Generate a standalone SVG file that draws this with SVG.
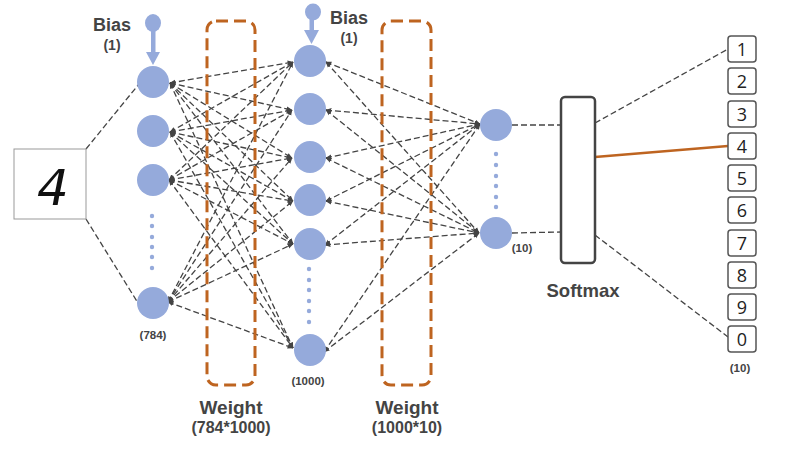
<svg xmlns="http://www.w3.org/2000/svg" width="798" height="449" viewBox="0 0 798 449">
<defs>
<marker id="ah" viewBox="0 0 10 10" refX="9" refY="5" markerWidth="6" markerHeight="6" markerUnits="userSpaceOnUse" orient="auto-start-reverse"><path d="M0,1 L10,5 L0,9 z" fill="#444"/></marker>
<style>
.n{fill:#95AADB}
.d{fill:#95AADB}
.c{stroke:#444;stroke-width:1.3;stroke-dasharray:6 3;fill:none}
.ca{stroke:#444;stroke-width:1.3;stroke-dasharray:6 3;fill:none;marker-start:url(#ah);marker-end:url(#ah)}
.w{fill:none;stroke:#BE6420;stroke-width:3;stroke-dasharray:12 6}
.t{font-family:"Liberation Sans",Arial,sans-serif;font-weight:bold;fill:#444;text-anchor:middle}
.ob{fill:#fff;stroke:#555;stroke-width:1.5}
.od{font-family:"Open Sans","Noto Sans",sans-serif;font-size:18px;fill:#222;text-anchor:middle}
</style>
</defs>
<rect width="798" height="449" fill="#fff"/>

<g id="connectors">
<!-- input to layer 1 -->
<line class="c" x1="86" y1="149" x2="139" y2="84"/>
<line class="c" x1="86" y1="219" x2="138" y2="303"/>
<!-- layer 1 to layer 2 -->
<line class="ca" x1="170" y1="83" x2="293" y2="62"/>
<line class="ca" x1="170" y1="83" x2="292" y2="110"/>
<line class="ca" x1="170" y1="83" x2="292" y2="158"/>
<line class="ca" x1="170" y1="83" x2="293" y2="201"/>
<line class="ca" x1="170" y1="83" x2="293" y2="244"/>
<line class="ca" x1="170" y1="83" x2="293" y2="348"/>
<line class="ca" x1="170" y1="132" x2="293" y2="62"/>
<line class="ca" x1="170" y1="132" x2="292" y2="110"/>
<line class="ca" x1="170" y1="132" x2="292" y2="158"/>
<line class="ca" x1="170" y1="132" x2="293" y2="201"/>
<line class="ca" x1="170" y1="132" x2="293" y2="244"/>
<line class="ca" x1="170" y1="132" x2="293" y2="348"/>
<line class="ca" x1="169" y1="180" x2="293" y2="62"/>
<line class="ca" x1="169" y1="180" x2="292" y2="110"/>
<line class="ca" x1="169" y1="180" x2="292" y2="158"/>
<line class="ca" x1="169" y1="180" x2="293" y2="201"/>
<line class="ca" x1="169" y1="180" x2="293" y2="244"/>
<line class="ca" x1="169" y1="180" x2="293" y2="348"/>
<line class="ca" x1="168" y1="302" x2="293" y2="62"/>
<line class="ca" x1="168" y1="302" x2="292" y2="110"/>
<line class="ca" x1="168" y1="302" x2="292" y2="158"/>
<line class="ca" x1="168" y1="302" x2="293" y2="201"/>
<line class="ca" x1="168" y1="302" x2="293" y2="244"/>
<line class="ca" x1="168" y1="302" x2="293" y2="348"/>
<!-- layer 2 to layer 3 -->
<line class="ca" x1="326" y1="62" x2="480" y2="124"/>
<line class="ca" x1="326" y1="110" x2="480" y2="124"/>
<line class="ca" x1="326" y1="158" x2="480" y2="124"/>
<line class="ca" x1="326" y1="201" x2="480" y2="124"/>
<line class="ca" x1="325" y1="245" x2="480" y2="124"/>
<line class="ca" x1="324" y1="352" x2="480" y2="124"/>
<line class="ca" x1="326" y1="62" x2="479" y2="233"/>
<line class="ca" x1="326" y1="110" x2="479" y2="233"/>
<line class="ca" x1="326" y1="158" x2="479" y2="233"/>
<line class="ca" x1="326" y1="201" x2="479" y2="233"/>
<line class="ca" x1="325" y1="245" x2="479" y2="233"/>
<line class="ca" x1="324" y1="352" x2="479" y2="233"/>
<!-- layer 3 to softmax -->
<line class="c" x1="512" y1="125" x2="561" y2="125"/>
<line class="c" x1="512" y1="233" x2="561" y2="232"/>
<!-- softmax to outputs -->
<line class="c" x1="595" y1="123" x2="728" y2="49"/>
<line x1="595" y1="157" x2="728" y2="146" stroke="#BE6420" stroke-width="2.5"/>
<line class="c" x1="595" y1="235" x2="728" y2="337"/>
</g>

<g id="weight1">
<rect class="w" x="207" y="21" width="48" height="364" rx="9"/>
<text class="t" x="231" y="414" font-size="19">Weight</text>
<text class="t" x="231" y="433" font-size="16">(784*1000)</text>
</g>
<g id="weight2">
<rect class="w" x="382" y="21" width="49" height="364" rx="9"/>
<text class="t" x="407" y="414" font-size="19">Weight</text>
<text class="t" x="407" y="433" font-size="16">(1000*10)</text>
</g>

<g id="input">
<rect x="14" y="149" width="72" height="70" fill="#fff" stroke="#999" stroke-width="1"/>
<text x="53" y="205" font-family="DejaVu Sans, sans-serif" font-style="italic" font-size="50" fill="#111" text-anchor="middle">4</text>
</g>

<g id="bias1">
<ellipse class="n" cx="153" cy="23" rx="8" ry="9"/>
<rect class="n" x="151" y="28" width="4.5" height="25"/>
<path class="n" d="M146,52 L160,52 L153,65 z"/>
<text class="t" x="112" y="31" font-size="18">Bias</text>
<text class="t" x="112" y="50" font-size="14">(1)</text>
</g>
<g id="bias2">
<ellipse class="n" cx="313" cy="12" rx="8" ry="8.5"/>
<rect class="n" x="309.5" y="17" width="4.5" height="14"/>
<path class="n" d="M304,30 L319,30 L311.5,44 z"/>
<text class="t" x="349" y="23.5" font-size="18">Bias</text>
<text class="t" x="349" y="43" font-size="14">(1)</text>
</g>

<g id="layer1">
<circle class="n" cx="153" cy="82" r="16"/>
<circle class="n" cx="153" cy="131" r="16"/>
<circle class="n" cx="153" cy="180" r="16"/>
<circle class="d" cx="152" cy="216" r="2.2"/>
<circle class="d" cx="152" cy="226" r="2.2"/>
<circle class="d" cx="152" cy="237" r="2.2"/>
<circle class="d" cx="152" cy="247" r="2.2"/>
<circle class="d" cx="152" cy="257" r="2.2"/>
<circle class="d" cx="152" cy="268" r="2.2"/>
<circle class="n" cx="153" cy="303" r="16"/>
<text class="t" x="153" y="339" font-size="11.5">(784)</text>
</g>

<g id="layer2">
<circle class="n" cx="310" cy="61" r="16"/>
<circle class="n" cx="310" cy="109" r="16"/>
<circle class="n" cx="310" cy="157" r="16"/>
<circle class="n" cx="310" cy="200" r="16"/>
<circle class="n" cx="310" cy="244" r="16"/>
<circle class="d" cx="309" cy="269" r="2.2"/>
<circle class="d" cx="309" cy="280" r="2.2"/>
<circle class="d" cx="309" cy="290" r="2.2"/>
<circle class="d" cx="309" cy="301" r="2.2"/>
<circle class="d" cx="309" cy="311" r="2.2"/>
<circle class="d" cx="309" cy="322" r="2.2"/>
<circle class="n" cx="310" cy="350" r="16"/>
<text class="t" x="308" y="385" font-size="11.5">(1000)</text>
</g>

<g id="layer3">
<circle class="n" cx="496" cy="125" r="16"/>
<circle class="d" cx="496" cy="154" r="2.2"/>
<circle class="d" cx="496" cy="165" r="2.2"/>
<circle class="d" cx="496" cy="176" r="2.2"/>
<circle class="d" cx="496" cy="186" r="2.2"/>
<circle class="d" cx="496" cy="197" r="2.2"/>
<circle class="d" cx="496" cy="207" r="2.2"/>
<circle class="n" cx="496" cy="233" r="16"/>
<text class="t" x="522" y="252" font-size="11.5">(10)</text>
</g>

<g id="softmax">
<rect x="561" y="97" width="34" height="166" rx="4" fill="#fff" stroke="#444" stroke-width="2.5"/>
<text class="t" x="583" y="297" font-size="18.5">Softmax</text>
</g>

<g id="outputs">
<rect class="ob" x="728" y="36" width="28" height="26" rx="3"/><text class="od" x="742" y="55.5">1</text>
<rect class="ob" x="728" y="68" width="28" height="26" rx="3"/><text class="od" x="742" y="87.5">2</text>
<rect class="ob" x="728" y="101" width="28" height="26" rx="3"/><text class="od" x="742" y="120.5">3</text>
<rect class="ob" x="728" y="133" width="28" height="26" rx="3"/><text class="od" x="742" y="152.5">4</text>
<rect class="ob" x="728" y="165" width="28" height="26" rx="3"/><text class="od" x="742" y="184.5">5</text>
<rect class="ob" x="728" y="197" width="28" height="26" rx="3"/><text class="od" x="742" y="216.5">6</text>
<rect class="ob" x="728" y="230" width="28" height="26" rx="3"/><text class="od" x="742" y="249.5">7</text>
<rect class="ob" x="728" y="262" width="28" height="26" rx="3"/><text class="od" x="742" y="281.5">8</text>
<rect class="ob" x="728" y="294" width="28" height="26" rx="3"/><text class="od" x="742" y="313.5">9</text>
<rect class="ob" x="728" y="326" width="28" height="26" rx="3"/><text class="od" x="742" y="345.5">0</text>
<text class="t" x="740" y="372" font-size="11.5">(10)</text>
</g>
</svg>
